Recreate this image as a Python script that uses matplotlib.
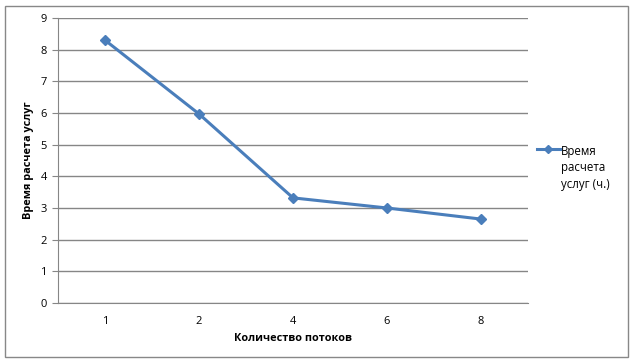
import matplotlib
matplotlib.use("Agg")
import matplotlib.pyplot as plt
from matplotlib.patches import Rectangle

categories = ["1", "2", "4", "6", "8"]
values = [8.3, 5.97, 3.32, 3.0, 2.65]
yticks = [0, 1, 2, 3, 4, 5, 6, 7, 8, 9]
series_name = "Время\nрасчета\nуслуг (ч.)"

plt.rcParams['font.family'] = ['Open Sans', 'DejaVu Sans']

W, H = 634, 361
fig = plt.figure(figsize=(W / 100, H / 100), dpi=100)
fig.patches.append(Rectangle((5 / W, 1 - 357 / H), 623 / W, 351 / H,
                             transform=fig.transFigure, fill=False,
                             edgecolor="#888888", linewidth=1))

ax = fig.add_axes([58 / W, 1 - 303 / H, 470 / W, 285 / H])
x = list(range(len(categories)))
ax.plot(x, values, color="#4A7EBB", linewidth=2.2, marker="D", markersize=5,
        label=series_name, zorder=3)
ax.set_xlim(-0.5, len(categories) - 0.5)
ax.set_ylim(0, 9)
ax.set_yticks(yticks)
ax.set_xticks(x)
ax.set_xticklabels(categories)
ax.grid(axis="y", color="#868686", linewidth=1)
ax.set_axisbelow(True)
for s in ["top", "right"]:
    ax.spines[s].set_visible(False)
for s in ["left", "bottom"]:
    ax.spines[s].set_color("#868686")
ax.tick_params(axis="y", length=4, color="#868686", labelsize=8, pad=4)
ax.tick_params(axis="x", length=0, labelsize=8, pad=9)
ax.set_xlabel("Количество потоков", fontsize=7.8, fontweight="bold", labelpad=5)
ax.set_ylabel("Время расчета услуг", fontsize=7.8, fontweight="bold", labelpad=5)

leg = fig.legend(loc="center left", bbox_to_anchor=(531 / W, 1 - 168 / H),
                 frameon=False, fontsize=8.3, handlelength=2.0, handletextpad=0.1,
                 borderpad=0, markerscale=0.8)
for t in leg.get_texts():
    t.set_linespacing(1.35)
for col in leg._legend_handle_box.get_children():
    col.align = "top"
    for row in col.get_children():
        row.align = "top"
plt.savefig("out.png", dpi=100)
